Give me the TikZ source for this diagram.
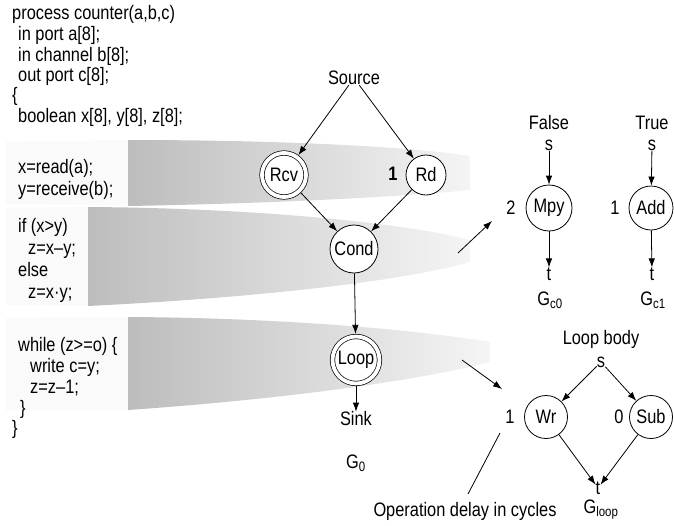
\documentclass[tikz,border=0pt]{standalone}
\usepackage{fontspec}
\setmainfont[FakeStretch=0.84]{Liberation Sans}
\usetikzlibrary{arrows.meta}
\begin{document}
\begin{tikzpicture}[x=1pt,y=-1pt,
  txt/.style={inner sep=0pt,font=\fontsize{19.5}{21}\selectfont},
  code/.style={txt,anchor=base west},
  op/.style={circle,draw,fill=white,line width=0.8pt,minimum size=46pt,inner sep=0pt,font=\fontsize{19.5}{21}\selectfont},
  dop/.style={circle,draw,fill=white,line width=0.7pt,double,double distance=3.8pt,minimum size=43pt,inner sep=0pt,outer sep=2.6pt,font=\fontsize{19.5}{21}\selectfont},
  arr/.style={-{Latex[length=9pt,width=6.5pt]},line width=0.8pt},
  band/.style={left color=gray!52,middle color=gray!55,right color=gray!8,draw=none},
  faint/.style={fill=gray!4,draw=none}]
\useasboundingbox (0,0) rectangle (674,525);
% bands
\fill[faint] (6,142) -- (130,140) -- (130,206) -- (6,204) -- cycle;
\shade[band] (128,140) .. controls (300,140) and (420,148) .. (470,156) -- (470,190) .. controls (420,195) and (300,203) .. (128,206) -- cycle;
\fill[faint] (6,208) -- (90,207) -- (90,306) -- (6,305) -- cycle;
\shade[band] (88,207) .. controls (250,208) and (400,222) .. (470,240) -- (470,262) .. controls (400,282) and (250,298) .. (88,306) -- cycle;
\fill[faint] (6,318) -- (130,317) -- (130,410) -- (6,410) -- cycle;
\shade[band] (128,317) .. controls (300,318) and (430,332) .. (490,342) -- (490,362) .. controls (430,378) and (300,398) .. (128,410) -- cycle;
% code
\node[code] (c1) at (12,19) {process counter(a,b,c)};
\node[code] (c2) at (18,40) {in port a[8];};
\node[code] (c3) at (18,61) {in channel b[8];};
\node[code] (c4) at (18,81) {out port c[8];};
\node[code] (c5) at (12,101) {\{};
\node[code] (c6) at (18,122) {boolean x[8], y[8], z[8];};
\node[code] (c7) at (18,173) {x=read(a);};
\node[code] (c8) at (18,195) {y=receive(b);};
\node[code] (c9) at (18,232) {if (x>y)};
\node[code] (c10) at (28,254) {z=x–y;};
\node[code] (c11) at (18,276) {else};
\node[code] (c12) at (28,298) {z=x·y;};
\node[code] (c13) at (18,351) {while (z>=o) \{};
\node[code] (c14) at (30,372) {write c=y;};
\node[code] (c15) at (30,393) {z=z–1;};
\node[code] (c16) at (20,414) {\}};
\node[code] (c17) at (12,434) {\}};
% G0
\node[txt] (src) at (354,78) {Source};
\node[dop,minimum size=44pt] (rcv) at (284,175) {Rcv};
\node[op,minimum size=40pt] (rd) at (426,175) {Rd};
\node[txt,font=\fontsize{19.5}{21}\selectfont\bfseries] (d1) at (393,174) {1};
\node[op,minimum size=48pt] (cond) at (354,249) {Cond};
\node[dop,minimum size=47pt] (loop) at (356,360) {Loop};
\node[txt] (sink) at (356,419) {Sink};
\node[txt] (g0) at (356,463) {G\textsubscript{0}};
\draw[arr] (src) -- (rcv);
\draw[arr] (src) -- (rd);
\draw[arr] (rcv) -- (cond);
\draw[arr] (rd) -- (cond);
\draw[arr] (cond) -- (loop);
\draw[arr] (loop) -- (sink);
% Gc0
\node[txt] (f) at (549,123) {False};
\node[txt] (s0) at (549,145) {s};
\node[op] (mpy) at (549,208) {Mpy};
\node[txt] (d2) at (511,208) {2};
\node[txt] (t0) at (549,274) {t};
\node[txt] (gc0) at (550,300) {G\textsubscript{c0}};
\draw[arr] (s0) -- (mpy);
\draw[arr] (mpy) -- (t0);
% Gc1
\node[txt] (tr) at (652,123) {True};
\node[txt] (s1) at (652,145) {s};
\node[op,minimum size=44pt] (add) at (651,208) {Add};
\node[txt] (d3) at (615,208) {1};
\node[txt] (t1) at (652,274) {t};
\node[txt] (gc1) at (653,300) {G\textsubscript{c1}};
\draw[arr] (s1) -- (add);
\draw[arr] (add) -- (t1);
% Gloop
\node[txt] (lb) at (601,339) {Loop body};
\node[txt] (sl) at (601,362) {s};
\node[op,minimum size=43pt] (wr) at (546,417) {Wr};
\node[txt] (d4) at (510,417) {1};
\node[op,minimum size=43pt] (sub) at (651,417) {Sub};
\node[txt] (d5) at (619,417) {0};
\node[txt] (tl) at (598,488) {t};
\node[txt] (gl) at (601,510) {G\textsubscript{loop}};
\draw[arr] (sl) -- (wr);
\draw[arr] (sl) -- (sub);
\draw[arr] (wr) -- (tl);
\draw[arr] (sub) -- (tl);
% pointers
\coordinate (b2) at (458,253);
\coordinate (m2) at (492,221);
\coordinate (b3) at (462,360);
\coordinate (a3) at (502,389);
\draw[arr] (b2) -- (m2);
\draw[arr] (b3) -- (a3);
\node[txt] (odc) at (465,511) {Operation delay in cycles};
\coordinate (oc) at (468,494);
\coordinate (d4s) at (500,433);
\draw[line width=0.8pt] (d4s) -- (oc);
\end{tikzpicture}
\end{document}
